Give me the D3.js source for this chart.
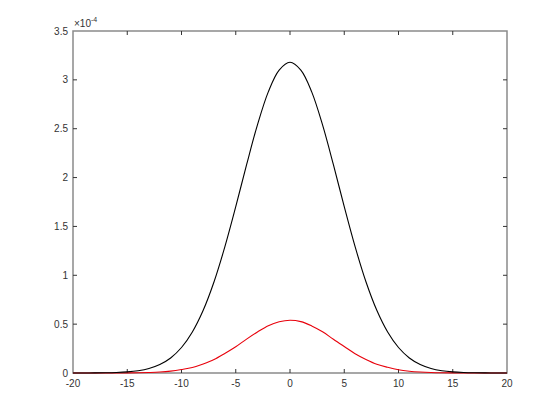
<!DOCTYPE html>
<html>
<head>
<meta charset="utf-8">
<script src="https://cdn.jsdelivr.net/npm/d3@7"></script>
<style>
  body { margin: 0; background: #fff; }
  svg { display: block; }
  text { font-family: "Liberation Sans", Arial, sans-serif; }
</style>
</head>
<body>
<div id="chart"></div>
<script>
// values (y in units of 1e-4)
const xs = [-20, -19, -18, -17, -16, -15, -14, -13, -12, -11, -10, -9, -8, -7, -6, -5, -4, -3, -2, -1,
  0, 1, 2, 3, 4, 5, 6, 7, 8, 9, 10, 11, 12, 13, 14, 15, 16, 17, 18, 19, 20];
const blackVals = [0.0001, 0.0004, 0.0009, 0.0023, 0.0053, 0.0115, 0.0237, 0.0465, 0.0869, 0.154, 0.261,
  0.420, 0.642, 0.934, 1.293, 1.702, 2.132, 2.539, 2.877, 3.10, 3.18, 3.10, 2.877, 2.539, 2.132, 1.702,
  1.293, 0.934, 0.642, 0.420, 0.261, 0.154, 0.0869, 0.0465, 0.0237, 0.0115, 0.0053, 0.0023, 0.0009, 0.0004, 0.0001];
const redVals = [0, 0, 0.0001, 0.0002, 0.0004, 0.0010, 0.0023, 0.0051, 0.0097, 0.0190, 0.035,
  0.056, 0.092, 0.137, 0.200, 0.268, 0.347, 0.419, 0.484, 0.524, 0.540, 0.526, 0.482, 0.422, 0.345, 0.271,
  0.198, 0.139, 0.090, 0.058, 0.033, 0.0185, 0.0100, 0.0049, 0.0022, 0.0011, 0.0004, 0.0002, 0.0001, 0, 0];
const xTicks = [-20, -15, -10, -5, 0, 5, 10, 15, 20];
const yTicks = [0, 0.5, 1, 1.5, 2, 2.5, 3, 3.5];

const width = 560, height = 420;
const margin = { left: 73, right: 53, top: 31, bottom: 47 };

const svg = d3.select('#chart').append('svg')
  .attr('width', width)
  .attr('height', height);

const x = d3.scaleLinear().domain([-20, 20]).range([margin.left, width - margin.right]);
const y = d3.scaleLinear().domain([0, 3.5]).range([height - margin.bottom, margin.top]);

const axisColor = '#8a8a8a';
const tickLen = 4;

// frame
svg.append('rect')
  .attr('x', x(-20)).attr('y', y(3.5))
  .attr('width', x(20) - x(-20)).attr('height', y(0) - y(3.5))
  .attr('fill', 'none')
  .attr('stroke', axisColor)
  .attr('stroke-width', 1.5);

// ticks pointing inwards on all four sides
const tickG = svg.append('g').attr('stroke', '#333').attr('stroke-width', 1);
xTicks.slice(1, -1).forEach(t => {
  tickG.append('line').attr('x1', x(t)).attr('x2', x(t)).attr('y1', y(0)).attr('y2', y(0) - tickLen);
  tickG.append('line').attr('x1', x(t)).attr('x2', x(t)).attr('y1', y(3.5)).attr('y2', y(3.5) + tickLen);
});
yTicks.slice(1, -1).forEach(t => {
  tickG.append('line').attr('x1', x(-20)).attr('x2', x(-20) + tickLen).attr('y1', y(t)).attr('y2', y(t));
  tickG.append('line').attr('x1', x(20)).attr('x2', x(20) - tickLen).attr('y1', y(t)).attr('y2', y(t));
});

// tick labels
svg.append('g').selectAll('text')
  .data(xTicks)
  .enter()
  .append('text')
  .attr('x', d => x(d))
  .attr('y', y(0) + 14)
  .attr('text-anchor', 'middle')
  .style('font-size', '10px')
  .style('fill', '#333')
  .text(d => d);

svg.append('g').selectAll('text')
  .data(yTicks)
  .enter()
  .append('text')
  .attr('x', x(-20) - 5)
  .attr('y', d => y(d) + 3.5)
  .attr('text-anchor', 'end')
  .style('font-size', '10px')
  .style('fill', '#333')
  .text(d => d);

// exponent label
const expo = svg.append('text')
  .attr('x', x(-20) + 1)
  .attr('y', y(3.5) - 4)
  .style('font-size', '10px')
  .style('fill', '#333');
expo.append('tspan').text('\u00d710');
expo.append('tspan').attr('dy', -5).style('font-size', '7px').text('-4');

// curves
const line = d3.line()
  .x((d, i) => x(xs[i]))
  .y(d => y(d))
  .curve(d3.curveCatmullRom);

svg.append('path')
  .datum(redVals)
  .attr('d', line)
  .attr('fill', 'none')
  .attr('stroke', '#e8000b')
  .attr('stroke-width', 1.1);

svg.append('path')
  .datum(blackVals)
  .attr('d', line)
  .attr('fill', 'none')
  .attr('stroke', '#000')
  .attr('stroke-width', 1.1);
</script>
</body>
</html>
